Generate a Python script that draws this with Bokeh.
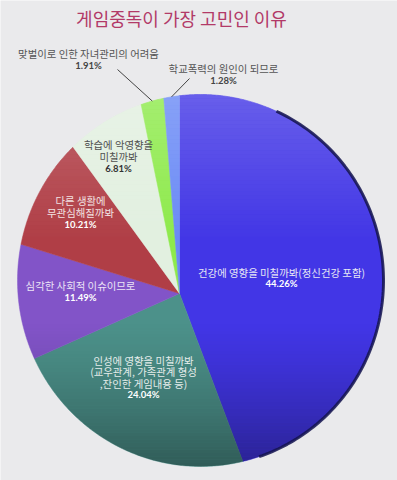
import numpy as np
from bokeh.plotting import figure
from bokeh.models import Range1d
from bokeh.core.properties import value
from bokeh.embed import file_html
from bokeh.resources import INLINE

# ---- data ----
title = "게임중독이 가장 고민인 이유"
categories = [
    ["건강에 영향을 미칠까봐(정신건강 포함)"],
    ["인성에 영향을 미칠까봐", "(교우관계, 가족관계 형성", ",잔인한 게임내용 등)"],
    ["심각한 사회적 이슈이므로"],
    ["다른 생활에", "무관심해질까봐"],
    ["학습에 악영향을", "미칠까봐"],
    ["맞벌이로 인한 자녀관리의 어려움"],
    ["학교폭력의 원인이 되므로"],
]
values = [44.26, 24.04, 11.49, 10.21, 6.81, 1.91, 1.28]
pct_labels = ["44.26%", "24.04%", "11.49%", "10.21%", "6.81%", "1.91%", "1.28%"]

# ---- style / layout ----
colors = ["#4236e6", "#4c918a", "#8254c8", "#b03e46", "#e2f0e0", "#8eea4c", "#6a8af6"]
name_colors = ["#e6e6f4", "#e4ecea", "#ece4f6", "#f2e2e2", "#505050", "#555555", "#555555"]
pct_colors = ["#ffffff", "#ffffff", "#ffffff", "#ffffff", "#333333", "#444444", "#444444"]
label_xy = [(281, 283), (143, 394), (80, 297), (80, 224), (118, 168), (88, 65), (223, 80)]
line_h = [11.5, 11.5, 12, 12, 12, 12.5, 12]
leader_start = [None, None, None, None, None, (117, 69), (189, 78)]

W, H = 397, 480
apex = np.array([179.0, 293.0])
center = np.array([200.0, 280.0])
rx, ry = 183.0, 186.0


def boundary(phi_deg):
    phi = np.radians(np.atleast_1d(phi_deg))
    ux, uy = np.cos(phi), -np.sin(phi)
    a, b = ux / rx, uy / ry
    p_, q_ = (apex[0] - center[0]) / rx, (apex[1] - center[1]) / ry
    A = a * a + b * b
    B = 2 * (p_ * a + q_ * b)
    C = p_ * p_ + q_ * q_ - 1
    t = (-B + np.sqrt(B * B - 4 * A * C)) / (2 * A)
    return apex[0] + t * ux, apex[1] + t * uy


def hband(y0, y1, n=6):
    yy = np.linspace(y0, y1, n)
    w = rx * np.sqrt(np.clip(1 - ((yy - center[1]) / ry) ** 2, 0, 1))
    return (np.concatenate([center[0] - w, (center[0] + w)[::-1]]),
            np.concatenate([yy, yy[::-1]]))


p = figure(width=W, height=H, x_range=Range1d(0, W), y_range=Range1d(H, 0),
           output_backend="svg", toolbar_location=None, min_border=0,
           background_fill_color="#eaeaec", border_fill_color="#eaeaec",
           outline_line_color=None)
p.axis.visible = False
p.grid.visible = False

vals = np.array(values)
cum = np.concatenate([[0], np.cumsum(vals) / vals.sum()])
xs, ys, mids = [], [], []
for i in range(len(vals)):
    a0 = 90 - 360 * cum[i]
    a1 = 90 - 360 * cum[i + 1]
    n = max(4, int(abs(a1 - a0) * 2))
    ang = np.linspace(a0, a1, n)
    bx, by = boundary(ang)
    xs.append(np.concatenate([[apex[0]], bx]))
    ys.append(np.concatenate([[apex[1]], by]))
    mids.append((a0 + a1) / 2)

p.patches(xs, ys, fill_color=colors, line_color=colors, line_width=0.5)

# glossy shading: light at top, dark at bottom
top_y, bot_y = center[1] - ry, center[1] + ry
bxs, bys, bcol, balpha = [], [], [], []
edges = np.linspace(top_y, 240, 40)
for k in range(len(edges) - 1):
    bx_, by_ = hband(edges[k], edges[k + 1])
    bxs.append(bx_); bys.append(by_)
    bcol.append("#ffffff"); balpha.append(0.2 * (1 - k / (len(edges) - 1)))
edges = np.linspace(320, bot_y, 44)
for k in range(len(edges) - 1):
    bx_, by_ = hband(edges[k], edges[k + 1])
    bxs.append(bx_); bys.append(by_)
    bcol.append("#000000"); balpha.append(0.36 * ((k + 1) / (len(edges) - 1)) ** 1.4)
p.patches(bxs, bys, fill_color=bcol, fill_alpha=balpha, line_color=None)

# dark rim on right side of the largest slice
rim_ang = np.linspace(62, -64, 120)
rbx, rby = boundary(rim_ang)
p.line(rbx, rby, line_color="#14144e", line_width=3, line_alpha=0.85)

# title
p.text(x=[181], y=[17], text=[title], text_align="center", text_baseline="middle",
       text_font=value("Noto Sans CJK KR"), text_font_size="18px", text_color="#b23a68")

# labels
for i in range(len(vals)):
    lx, ly = label_xy[i]
    lines = categories[i]
    nl = len(lines)
    p.text(x=[lx] * nl, y=[ly - line_h[i] * (nl - k) for k in range(nl)], text=lines,
           text_align="center", text_baseline="middle",
           text_font=value("Noto Sans CJK KR"), text_font_size="10.4px",
           text_color=name_colors[i])
    p.text(x=[lx], y=[ly], text=[pct_labels[i]], text_align="center", text_baseline="middle",
           text_font=value("Lato"), text_font_style="bold", text_font_size="9.5px",
           text_color=pct_colors[i])
    if leader_start[i] is not None:
        ex, ey = boundary(mids[i])
        p.line([leader_start[i][0], ex[0]], [leader_start[i][1], ey[0]],
               line_color="#444444", line_width=1)

open("out.html", "w").write(file_html(p, INLINE))
